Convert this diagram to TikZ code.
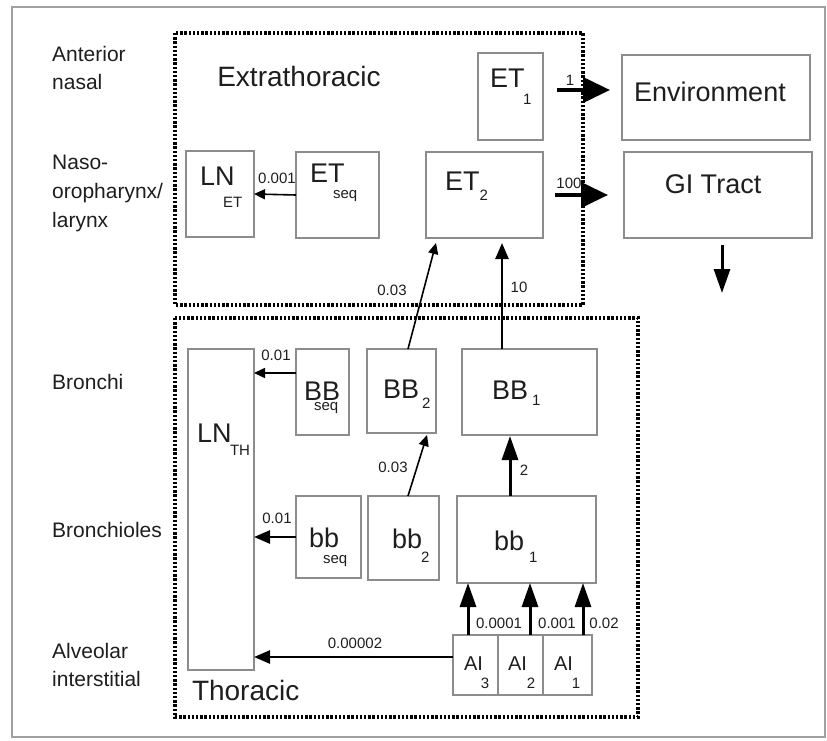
\documentclass[tikz,border=0pt]{standalone}
\usepackage{fontspec}
\setmainfont{Liberation Sans}
\usetikzlibrary{arrows.meta,calc}
\newcommand{\fs}[1]{\fontsize{#1}{#1}\selectfont}
% \mysub{main}{sub}{kern}{drop}
\newcommand{\mysub}[4]{#1\kern#3pt\raisebox{-#4pt}{\fs{15}#2}}
\definecolor{boxgray}{HTML}{8C8C8C}
\definecolor{framegray}{HTML}{A0A0A0}
\definecolor{ink}{HTML}{1E1E1E}
\begin{document}
\begin{tikzpicture}[x=1pt,y=-1pt,
  box/.style={draw=boxgray, line width=1.3pt, inner sep=0pt, outer sep=0pt},
  txt/.style={inner sep=0pt, outer sep=0pt, text=ink, font=\fs{27}},
  region/.style={inner sep=0pt, text=ink, font=\fs{21}, align=left, anchor=west},
  num/.style={inner sep=0pt, text=ink, font=\fs{15}},
  dotbox/.style={draw=black, line width=3.4pt, dash pattern=on 2.4pt off 1.8pt},
  thinarrow/.style={draw=black, line width=1.6pt, -{Triangle[length=11pt,width=10pt]}},
  medarrow/.style={draw=black, line width=2.6pt, -{Triangle[length=16pt,width=13pt]}},
  tallarrow/.style={draw=black, line width=3pt, -{Triangle[length=24pt,width=16pt]}},
  bigarrow/.style={draw=black, line width=4pt, -{Triangle[length=27pt,width=25pt]}}
]
\useasboundingbox (0,0) rectangle (827,741);
\draw[framegray, line width=1.3pt] (12,7) rectangle (825,737);

% dotted compartments
\draw[dotbox] (175,33) rectangle (583,305);
\draw[dotbox] (175,318) rectangle (638,717);

% region labels
\node[region] (rAN) at (52,68) {Anterior\\[7pt]nasal};
\node[region] (rNO) at (52,193) {Naso-\\[8pt]oropharynx/\\[8pt]larynx};
\node[region] (rBR) at (52,382) {Bronchi};
\node[region] (rBL) at (52,530) {Bronchioles};
\node[region] (rAI) at (52,665) {Alveolar\\[7pt]interstitial};

\node[txt, font=\fs{28}, anchor=base] (tExtra) at (299,87) {Extrathoracic};
\node[txt, font=\fs{28}, anchor=base west] (tThor) at (192,700) {Thoracic};

% boxes
\node[box, minimum width=68pt, minimum height=86pt] (lnet) at (220,194) {};
\node[box, minimum width=83pt, minimum height=86pt] (etseq) at (337.5,195) {};
\node[box, minimum width=65pt, minimum height=87pt] (et1) at (510.5,96.5) {};
\node[box, minimum width=117pt, minimum height=86pt] (et2) at (484.5,195) {};
\node[box, minimum width=188pt, minimum height=85pt] (env) at (716,97.5) {};
\node[box, minimum width=188pt, minimum height=86pt] (gi) at (718,195) {};
\node[box, minimum width=66pt, minimum height=321pt] (lnth) at (221,509.5) {};
\node[box, minimum width=53pt, minimum height=86pt] (BBseq) at (322.5,392) {};
\node[box, minimum width=69pt, minimum height=84pt] (BB2) at (401.5,391) {};
\node[box, minimum width=135pt, minimum height=86pt] (BB1) at (529.5,392) {};
\node[box, minimum width=65pt, minimum height=82pt] (bbseq) at (328.5,537) {};
\node[box, minimum width=71pt, minimum height=84pt] (bb2) at (403.5,538) {};
\node[box, minimum width=139pt, minimum height=87pt] (bb1) at (526.5,539.5) {};
\node[box, minimum width=45pt, minimum height=60pt] (ai3) at (475.5,665) {};
\node[box, minimum width=45pt, minimum height=60pt] (ai2) at (520.5,665) {};
\node[box, minimum width=49pt, minimum height=60pt] (ai1) at (567.5,665) {};

% box texts
\node[txt, anchor=base west] (tlnet) at (200,185) {\mysub{LN}{ET}{-11.5}{22}};
\node[txt, anchor=base west] (tetseq) at (310,182) {\mysub{ET}{seq}{-11.5}{17}};
\node[txt, anchor=base west] (tet1) at (490,88) {\mysub{ET}{1}{-1.5}{17}};
\node[txt, anchor=base west] (tet2) at (445,190) {\mysub{ET}{2}{0}{10}};
\node[txt, anchor=base] (tenv) at (710,102) {Environment};
\node[txt, anchor=base] (tgi) at (713,193) {GI Tract};
\node[txt, anchor=base west] (tlnth) at (197,442) {\mysub{LN}{TH}{-1.5}{13}};
\node[txt, anchor=base west] (tBBseq) at (304,400) {\mysub{BB}{seq}{-26}{10}};
\node[txt, anchor=base west] (tBB2) at (383,398) {\mysub{BB}{2}{3}{10}};
\node[txt, anchor=base west] (tBB1) at (492,399) {\mysub{BB}{1}{4}{6}};
\node[txt, anchor=base west] (tbbseq) at (309,547) {\mysub{bb}{seq}{-16}{16}};
\node[txt, anchor=base west] (tbb2) at (392,548) {\mysub{bb}{2}{-1}{14}};
\node[txt, anchor=base west] (tbb1) at (494,550) {\mysub{bb}{1}{5}{12}};
\node[txt, font=\fs{20}, anchor=base west] (tai3) at (464,670) {\mysub{AI}{3}{-2}{18}};
\node[txt, font=\fs{20}, anchor=base west] (tai2) at (508,670) {\mysub{AI}{2}{0}{18}};
\node[txt, font=\fs{20}, anchor=base west] (tai1) at (554,670) {\mysub{AI}{1}{-1}{18}};

% connectors
\draw[thinarrow] (etseq.west) -- (lnet.east);
\draw[bigarrow] ([xshift=14pt,yshift=6.5pt]et1.east) -- ([xshift=-12pt,yshift=7.5pt]env.west);
\draw[bigarrow, shorten <=12pt, shorten >=16pt] (et2.east) -- (gi.west);
\coordinate (giout) at (722,293);
\draw[tallarrow] ($(gi.south)+(4,7)$) -- (giout);
\draw[thinarrow] ($(BB2.north)+(6.5,0)$) -- ($(et2.south west)+(10,5)$);
\draw[medarrow] ($(BB1.north)+(-27.5,0)$) -- ($(et2.south)+(17.5,5)$);
\coordinate (bbseqL) at ($(BBseq.west)+(0,-19)$);
\draw[thinarrow] (bbseqL) -- (bbseqL -| lnth.east);
\draw[medarrow] (bbseq.west) -- (bbseq.west -| lnth.east);
\draw[thinarrow] ($(bb2.north)+(4.5,0)$) -- ($(BB2.south)+(25.5,2)$);
\draw[tallarrow] ($(bb1.north)+(-16.5,0)$) -- ($(BB1.south)+(-19.5,1)$);
\draw[tallarrow] ($(ai3.north)+(-7.5,0)$) -- ($(ai3.north |- bb1.south)+(-7.5,0)$);
\draw[tallarrow] ($(ai2.north)+(9.5,0)$) -- ($(ai2.north |- bb1.south)+(9.5,0)$);
\draw[tallarrow] ($(ai1.north)+(15.5,0)$) -- ($(ai1.north |- bb1.south)+(15.5,0)$);
\coordinate (ai3L) at ($(ai3.west)+(0,-8)$);
\draw[medarrow] (ai3L) -- (ai3L -| lnth.east);

% rate labels
\node[num] (n1) at (277,178) {0.001};
\node[num] (n2) at (570,80) {1};
\node[num] (n3) at (569,183) {100};
\node[num] (n4) at (392,290) {0.03};
\node[num] (n5) at (519,287) {10};
\node[num] (n6) at (276,355) {0.01};
\node[num] (n7) at (277,518) {0.01};
\node[num] (n8) at (393,467) {0.03};
\node[num] (n9) at (524,470) {2};
\node[num] (n10) at (499,623) {0.0001};
\node[num] (n11) at (557,623) {0.001};
\node[num] (n12) at (604,623) {0.02};
\node[num] (n13) at (355,643) {0.00002};
\end{tikzpicture}
\end{document}
